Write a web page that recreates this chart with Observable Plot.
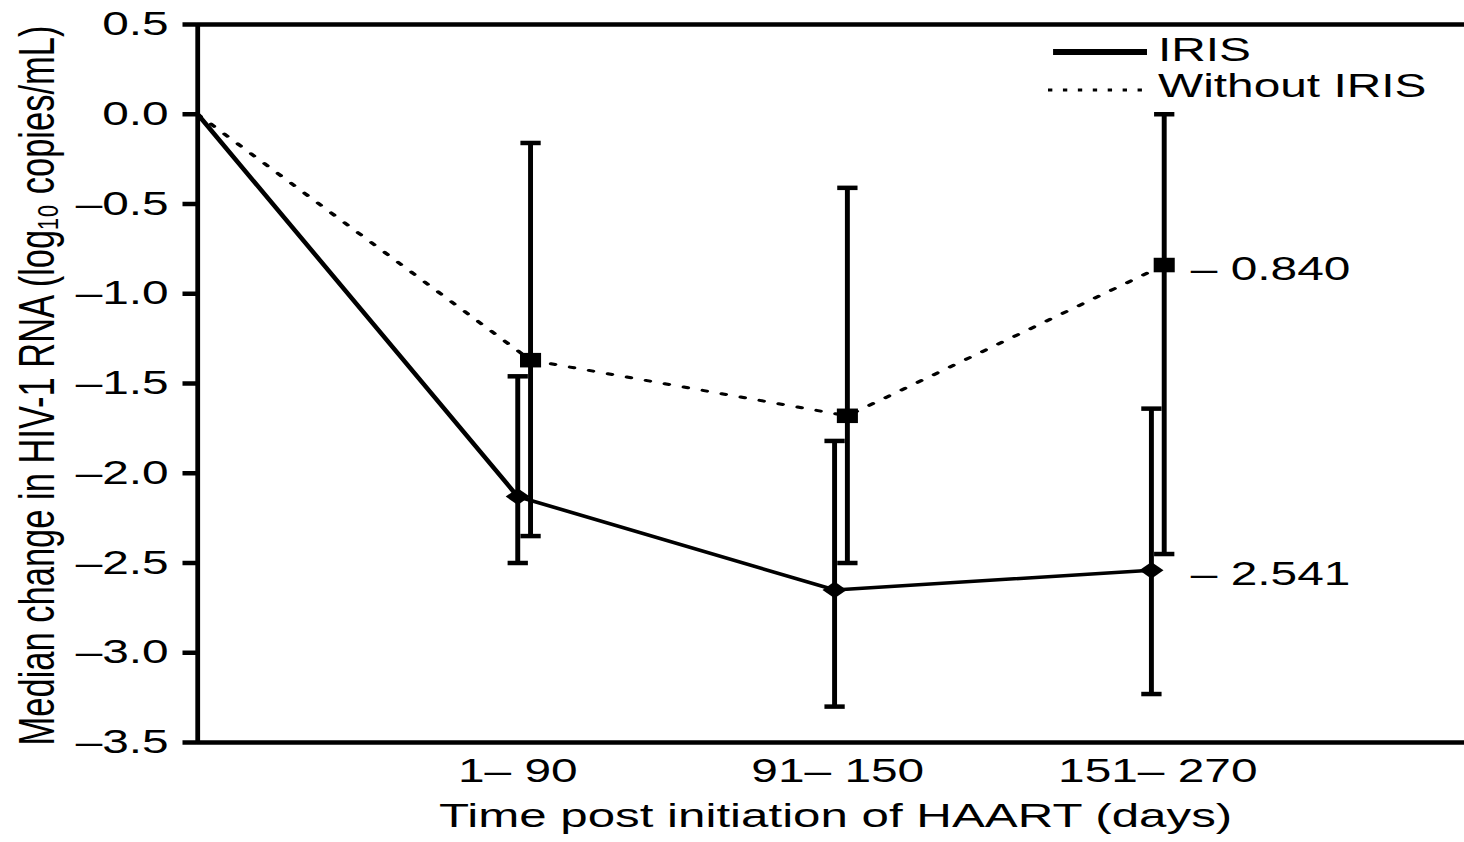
<!DOCTYPE html>
<html><head><meta charset="utf-8">
<script src="https://cdn.jsdelivr.net/npm/d3@7"></script>
<script src="https://cdn.jsdelivr.net/npm/@observablehq/plot@0.6"></script>
<style>
html,body{margin:0;padding:0;background:#fff;}
#chart{width:1464px;height:842px;overflow:hidden;}
#chart svg{transform-origin:0 0;}
</style></head><body><div id="chart"></div>
<script>
// ---- data ----
const timeIndex = [0, 1, 2, 3];
const timeLabels = ["", "1– 90", "91– 150", "151– 270"];
const seriesNames = ["IRIS", "Without IRIS"];
const irisX = [0, 1.0, 1.99, 2.98];
const irisMedian = [0, -2.13, -2.65, -2.541];
const irisLow = [null, -2.50, -3.30, -3.23];
const irisHigh = [null, -1.46, -1.82, -1.64];
const withoutX = [0, 1.04, 2.03, 3.02];
const withoutMedian = [0, -1.37, -1.68, -0.840];
const withoutLow = [null, -2.35, -2.50, -2.45];
const withoutHigh = [null, -0.16, -0.41, 0.0];
const yTicks = [0.5, 0.0, -0.5, -1.0, -1.5, -2.0, -2.5, -3.0, -3.5];
const xTicks = [1, 2, 3];
const xTitle = "Time post initiation of HAART (days)";
const yTitle = "Median change in HIV-1 RNA (log₁₀ copies/mL)";

// ---- tables ----
const iris = timeIndex.map((t, i) => ({series: seriesNames[0], t, x: irisX[i], median: irisMedian[i], low: irisLow[i], high: irisHigh[i]}));
const without = timeIndex.map((t, i) => ({series: seriesNames[1], t, x: withoutX[i], median: withoutMedian[i], low: withoutLow[i], high: withoutHigh[i]}));
const bars = [...iris, ...without].filter(d => d.t > 0);
const last = [iris[iris.length - 1], without[without.length - 1]];

// the reference image is horizontally stretched; draw narrower and stretch
const STRETCH = 1464 / 1010;
const W = 1010;
const FONT = "'Liberation Sans', Arial, Helvetica, sans-serif";
const capSymbol = {draw(ctx, size) { const r = Math.sqrt(size / Math.PI); ctx.moveTo(-r, 0); ctx.lineTo(r, 0); }};

function legend() {
  const g = d3.create("svg:g").attr("font-family", FONT).attr("font-size", 33).attr("text-anchor", "start");
  g.append("line").attr("x1", 726.5).attr("x2", 791.3).attr("y1", 52).attr("y2", 52).attr("stroke", "black").attr("stroke-width", 6);
  g.append("text").attr("x", 798.9).attr("y", 49).attr("dy", "0.35em").text(seriesNames[0]);
  g.append("line").attr("x1", 723).attr("x2", 791.3).attr("y1", 90).attr("y2", 90).attr("stroke", "black").attr("stroke-width", 3).attr("stroke-dasharray", "3,7.3");
  g.append("text").attr("x", 798.9).attr("y", 85).attr("dy", "0.35em").text(seriesNames[1]);
  return g.node();
}

const chart = Plot.plot({
  width: W,
  height: 842,
  marginLeft: 135.9,
  marginRight: 0,
  marginTop: 24,
  marginBottom: 100,
  style: {fontFamily: FONT, color: "black", background: "white", overflow: "visible"},
  x: {domain: [0, 3.959]},
  y: {domain: [-3.5, 0.5]},
  marks: [
    Plot.ruleY([0.5, -3.5], {stroke: "black", strokeWidth: 4.5}),
    Plot.ruleX([0], {stroke: "black", strokeWidth: 3.3}),
    Plot.axisY(yTicks, {tickSize: 10, tickPadding: 10, strokeWidth: 4.5, fontSize: 33, label: null,
      tickFormat: d => (d < 0 ? "–" : "") + Math.abs(d).toFixed(1)}),
    Plot.axisX(xTicks, {tickSize: 0, tickPadding: 16, fontSize: 33, label: null, tickFormat: d => timeLabels[d]}),
    Plot.ruleX(bars, {x: "x", y1: "low", y2: "high", stroke: "black", strokeWidth: 3.4}),
    Plot.dot(bars, {x: "x", y: "low", symbol: capSymbol, r: 7, stroke: "black", strokeWidth: 4.5}),
    Plot.dot(bars, {x: "x", y: "high", symbol: capSymbol, r: 7, stroke: "black", strokeWidth: 4.5}),
    Plot.line(iris, {x: "x", y: "median", stroke: "black", strokeWidth: 3.5}),
    Plot.line(without, {x: "x", y: "median", stroke: "black", strokeWidth: 3, strokeDasharray: "3,10.5"}),
    Plot.dot(iris.filter(d => d.t > 0), {x: "x", y: "median", symbol: "diamond2", r: 7.5, fill: "black"}),
    Plot.dot(without.filter(d => d.t > 0), {x: "x", y: "median", symbol: "square", r: 8.2, fill: "black"}),
    Plot.text(last, {x: "t", y: "median", text: d => "– " + Math.abs(d.median).toFixed(3), textAnchor: "start", dx: 22.8, dy: 4, fontSize: 33}),
    Plot.text([yTitle], {frameAnchor: "left", rotate: -90, textAnchor: "middle", dx: -110.4, dy: 2, fontSize: 34.5}),
    Plot.text([xTitle], {frameAnchor: "bottom", dy: 84, dx: 3, fontSize: 34}),
    legend
  ]
});
chart.style.transform = `scaleX(${STRETCH})`;
document.getElementById("chart").appendChild(chart);
</script>
</body></html>
